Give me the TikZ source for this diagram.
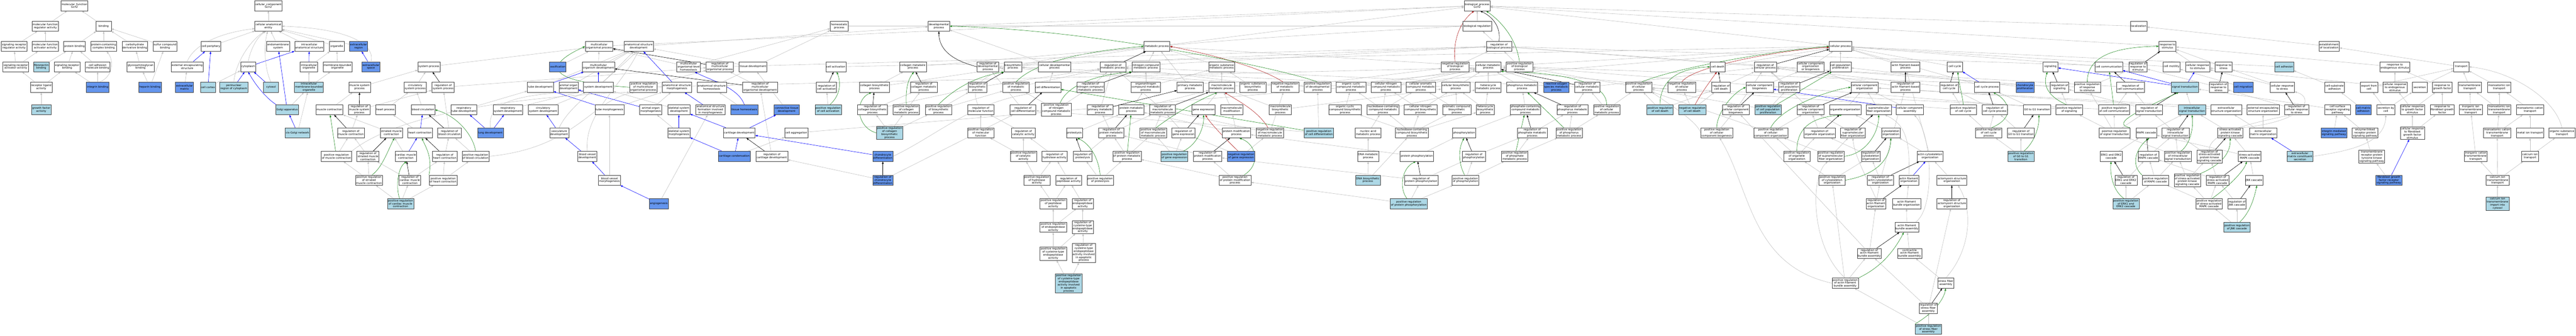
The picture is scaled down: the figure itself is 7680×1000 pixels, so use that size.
\documentclass[tikz,border=0pt]{standalone}
\usepackage{fontspec}
\newfontfamily\gofont{DejaVu Sans}
\usetikzlibrary{arrows.meta,shadows}
\pgfdeclarelayer{bg}
\pgfsetlayers{bg,main}
\definecolor{lbfill}{HTML}{ADD8E6}
\definecolor{dbfill}{HTML}{6495ED}
\definecolor{egray}{HTML}{C0C0C0}
\definecolor{egreen}{HTML}{228B22}
\definecolor{ered}{HTML}{B22222}
\tikzset{
  nb/.style={draw=black!75,line width=0.8pt,fill=white,font=\gofont\fontsize{8}{9}\selectfont,align=center,inner xsep=2pt,inner ysep=2pt,minimum height=30pt,minimum width=45pt,drop shadow={shadow xshift=0.9pt,shadow yshift=-0.9pt,fill=black!55,opacity=1}},
  lb/.style={nb,fill=lbfill},
  db/.style={nb,fill=dbfill},
  eg/.style={draw=egray,line width=0.9pt,-{Triangle[length=7pt,width=5pt]}},
  ek/.style={eg,draw=black},
  ebl/.style={eg,draw=blue},
  egr/.style={eg,draw=egreen},
  erd/.style={eg,draw=ered}
}
\begin{document}
\begin{tikzpicture}[x=1pt,y=-1pt]
\useasboundingbox (0,0) rectangle (7680,1000);
% ---------------- molecular function
\node[nb] (mf) at (222,17) {molecular\_function\\Gcn2};
\node[nb] (mfra) at (135,78) {molecular function\\regulator activity};
\node[nb] (binding) at (309,78) {binding};
\node[nb] (srra) at (42,138) {signaling receptor\\regulator activity};
\node[nb] (mfaa) at (135,138) {molecular function\\activator activity};
\node[nb] (protbind) at (222,138) {protein binding};
\node[nb] (pcbind) at (309,138) {protein-containing\\complex binding};
\node[nb] (carbbind) at (402,138) {carbohydrate\\derivative binding};
\node[nb] (sulfbind) at (492,138) {sulfur compound\\binding};
\node[nb] (srav) at (47,199) {signaling receptor\\activator activity};
\node[lb] (fibro) at (123,199) {fibronectin\\binding};
\node[nb] (srb) at (200,199) {signaling receptor\\binding};
\node[nb] (cadh) at (291,199) {cell adhesion\\molecule binding};
\node[nb] (gag) at (419,199) {glycosaminoglycan\\binding};
\node[nb] (rla) at (123,260) {receptor ligand\\activity};
\node[db] (integrin) at (291,260) {integrin binding};
\node[db] (heparin) at (447,260) {heparin binding};
\node[lb] (gfa) at (123,327) {growth factor\\activity};
% ---------------- cellular component
\node[nb] (cc) at (800,17) {cellular\_component\\Gcn2};
\node[nb] (cae) at (800,78) {cellular anatomical\\entity};
\node[nb] (cellperiph) at (629,138) {cell periphery};
\node[nb] (endo) at (829,138) {endomembrane\\system};
\node[nb] (ias) at (922,138) {intracellular\\anatomical structure};
\node[nb] (organelle) at (1004,138) {organelle};
\node[db] (ecr) at (1069,138) {extracellular\\region};
\node[nb] (ees) at (558,199) {external encapsulating\\structure};
\node[nb] (cytoplasm) at (740,199) {cytoplasm};
\node[nb] (io) at (921,199) {intracellular\\organelle};
\node[nb] (mbo) at (1006,199) {membrane-bounded\\organelle};
\node[db] (ecs) at (1106,199) {extracellular\\space};
\node[db] (ecm) at (550,260) {extracellular\\matrix};
\node[lb] (cortex) at (620,260) {cell cortex};
\node[lb] (perinuc) at (697,260) {perinuclear\\region of cytoplasm};
\node[lb] (cytosol) at (808,260) {cytosol};
\node[lb] (imbo) at (921,260) {intracellular\\membrane-bounded\\organelle};
\node[lb] (golgi) at (856,327) {Golgi apparatus};
\node[lb] (cisgolgi) at (887,396) {cis-Golgi network};
% ---------------- muscle / heart
\node[nb] (sysproc) at (1279,199) {system process};
\node[nb] (msp) at (1072,260) {muscle system\\process};
\node[nb] (csp) at (1238,260) {circulatory\\system process};
\node[nb] (rsp) at (1321,260) {regulation of\\system process};
\node[nb] (mc) at (982,327) {muscle contraction};
\node[nb] (rmsp) at (1071,327) {regulation of\\muscle system\\process};
\node[nb] (hp) at (1149,327) {heart process};
\node[nb] (bc) at (1261,327) {blood circulation};
\node[nb] (rmc) at (1046,396) {regulation of\\muscle contraction};
\node[nb] (smc) at (1167,396) {striated muscle\\contraction};
\node[nb] (hc) at (1252,396) {heart contraction};
\node[nb] (rbc) at (1340,396) {regulation of\\blood circulation};
\node[nb] (prmc) at (1003,466) {positive regulation\\of muscle contraction};
\node[nb] (rsmc) at (1097,466) {regulation of\\striated muscle\\contraction};
\node[nb] (cmc) at (1210,466) {cardiac muscle\\contraction};
\node[nb] (rhc) at (1326,466) {regulation of\\heart contraction};
\node[nb] (prbc) at (1418,466) {positive regulation\\of blood circulation};
\node[nb] (prsmc) at (1100,537) {positive regulation\\of striated\\muscle contraction};
\node[nb] (rcmc) at (1222,537) {regulation of\\cardiac muscle\\contraction};
\node[nb] (prhc) at (1321,537) {positive regulation\\of heart contraction};
\node[lb] (prcmc) at (1194,607) {positive regulation\\of cardiac muscle\\contraction};
% ---------------- development
\node[nb] (mop) at (1786,138) {multicellular\\organismal process};
\node[nb] (asd) at (1904,138) {anatomical structure\\development};
\node[db] (ossif) at (1663,199) {ossification};
\node[nb] (mod) at (1784,199) {multicellular\\organism development};
\node[nb] (tube) at (1611,260) {tube development};
\node[nb] (aod) at (1695,260) {animal organ\\development};
\node[nb] (sysdev) at (1784,260) {system development};
\node[nb] (prmop) at (1918,260) {positive regulation\\of multicellular\\organismal process};
\node[nb] (rtd) at (1383,327) {respiratory\\tube development};
\node[nb] (rsd) at (1514,327) {respiratory\\system development};
\node[nb] (csd) at (1619,327) {circulatory\\system development};
\node[nb] (tm) at (1817,327) {tube morphogenesis};
\node[nb] (aom) at (1940,327) {animal organ\\morphogenesis};
\node[db] (lung) at (1462,396) {lung development};
\node[nb] (vasc) at (1667,396) {vasculature\\development};
\node[nb] (bvd) at (1751,466) {blood vessel\\development};
\node[nb] (bvm) at (1817,537) {blood vessel\\morphogenesis};
\node[db] (angio) at (1964,607) {angiogenesis};
\node[nb] (homeo) at (2502,78) {homeostatic\\process};
\node[nb] (mlh) at (2053,199) {multicellular\\organismal-level\\homeostasis};
\node[nb] (rmop) at (2146,199) {regulation of\\multicellular\\organismal process};
\node[nb] (tisdev) at (2245,199) {tissue development};
\node[nb] (cellact) at (2492,199) {cell activation};
\node[nb] (asm) at (2018,260) {anatomical structure\\morphogenesis};
\node[nb] (ash) at (2122,260) {anatomical structure\\homeostasis};
\node[nb] (rmod) at (2266,260) {regulation of\\multicellular\\organismal development};
\node[nb] (rca) at (2464,260) {regulation of\\cell activation};
\node[nb] (ssd) at (2024,327) {skeletal system\\development};
\node[nb] (asfm) at (2118,327) {anatomical structure\\formation involved\\in morphogenesis};
\node[db] (tishomeo) at (2219,327) {tissue homeostasis};
\node[db] (ctd) at (2345,327) {connective tissue\\development};
\node[lb] (prca) at (2469,327) {positive regulation\\of cell activation};
\node[nb] (ssm) at (2024,396) {skeletal system\\morphogenesis};
\node[nb] (cartdev) at (2204,396) {cartilage development};
\node[nb] (cellagg) at (2374,396) {cell aggregation};
\node[db] (cartcond) at (2189,466) {cartilage condensation};
\node[nb] (rcd) at (2301,466) {regulation of\\cartilage development};
% ---------------- zoom 5
\node[nb] (devproc) at (2799,78) {developmental\\process};
\node[nb] (cmp) at (2722,199) {collagen metabolic\\process};
\node[nb] (rdp) at (2945,199) {regulation of\\developmental\\process};
\node[nb] (biosyn) at (3020,199) {biosynthetic\\process};
\node[nb] (cdp) at (3144,199) {cellular developmental\\process};
\node[nb] (cbp) at (2607,260) {collagen biosynthetic\\process};
\node[nb] (rcmp) at (2754,260) {regulation of\\collagen metabolic\\process};
\node[nb] (rbp) at (2914,260) {regulation of\\biosynthetic\\process};
\node[nb] (prmp) at (3029,260) {positive regulation\\of metabolic\\process};
\node[nb] (celldiff) at (3124,260) {cell differentiation};
\node[nb] (rcbp) at (2601,327) {regulation of\\collagen biosynthetic\\process};
\node[nb] (prcmp) at (2702,327) {positive regulation\\of collagen\\metabolic process};
\node[nb] (prbp) at (2798,327) {positive regulation\\of biosynthetic\\process};
\node[nb] (rmf) at (2924,327) {regulation of\\molecular function};
\node[nb] (rcdiff) at (3050,327) {regulation of\\cell differentiation};
\node[nb] (prncmp) at (3149,327) {positive regulation\\of nitrogen\\compound metabolic\\process};
\node[lb] (prcbp) at (2652,396) {positive regulation\\of collagen\\biosynthetic\\process};
\node[nb] (prmf) at (2924,396) {positive regulation\\of molecular\\function};
\node[nb] (rcatact) at (3051,396) {regulation of\\catalytic activity};
\node[nb] (proteolysis) at (3203,396) {proteolysis};
\node[db] (chondiff) at (2632,466) {chondrocyte\\differentiation};
\node[nb] (prcatact) at (3051,466) {positive regulation\\of catalytic\\activity};
\node[nb] (rhydro) at (3144,466) {regulation of\\hydrolase activity};
\node[nb] (rproteolysis) at (3228,466) {regulation of\\proteolysis};
\node[db] (rchondiff) at (2632,537) {regulation of\\chondrocyte\\differentiation};
\node[nb] (prhydro) at (3091,537) {positive regulation\\of hydrolase\\activity};
\node[nb] (rpep) at (3186,537) {regulation of\\peptidase activity};
\node[nb] (prproteolysis) at (3280,537) {positive regulation\\of proteolysis};
\node[nb] (prpep) at (3140,607) {positive regulation\\of peptidase\\activity};
\node[nb] (rendo) at (3228,607) {regulation of\\endopeptidase\\activity};
\node[nb] (prendo) at (3140,677) {positive regulation\\of endopeptidase\\activity};
\node[nb] (rcep) at (3228,677) {regulation of\\cysteine-type\\endopeptidase\\activity};
\node[nb] (prcep) at (3140,756) {positive regulation\\of cysteine-type\\endopeptidase\\activity};
\node[nb] (rcepa) at (3231,754) {regulation of\\cysteine-type\\endopeptidase\\activity involved\\in apoptotic\\process};
\node[lb] (prcepa) at (3186,845) {positive regulation\\of cysteine-type\\endopeptidase\\activity involved\\in apoptotic\\process};
% ---------------- zoom 6
\node[nb] (mp) at (3449,138) {metabolic process};
\node[nb] (rmp) at (3318,199) {regulation of\\metabolic process};
\node[nb] (ncmp) at (3416,199) {nitrogen compound\\metabolic process};
\node[nb] (osmp) at (3642,199) {organic substance\\metabolic process};
\node[nb] (rncmp) at (3251,260) {regulation of\\nitrogen compound\\metabolic process};
\node[nb] (oncmp) at (3416,260) {organonitrogen\\compound metabolic\\process};
\node[nb] (pmp) at (3548,260) {primary metabolic\\process};
\node[nb] (mmp) at (3642,260) {macromolecule\\metabolic process};
\node[nb] (osbp) at (3735,260) {organic substance\\biosynthetic\\process};
\node[nb] (nrmp) at (3831,260) {negative regulation\\of metabolic\\process};
\node[nb] (rpmp) at (3280,327) {regulation of\\primary metabolic\\process};
\node[nb] (protmp) at (3373,327) {protein metabolic\\process};
\node[nb] (rmmp) at (3466,327) {regulation of\\macromolecule\\metabolic process};
\node[nb] (geneexp) at (3588,327) {gene expression};
\node[nb] (macmod) at (3672,327) {macromolecule\\modification};
\node[nb] (mbp) at (3817,327) {macromolecule\\biosynthetic\\process};
\node[nb] (rprotmp) at (3313,396) {regulation of\\protein metabolic\\process};
\node[nb] (prmmp) at (3438,396) {positive regulation\\of macromolecule\\metabolic process};
\node[nb] (rge) at (3528,396) {regulation of\\gene expression};
\node[nb] (pmod) at (3686,396) {protein modification\\process};
\node[nb] (nrmmp) at (3786,396) {negative regulation\\of macromolecule\\metabolic process};
\node[nb] (prprotmp) at (3360,466) {positive regulation\\of protein metabolic\\process};
\node[lb] (prge) at (3501,466) {positive regulation\\of gene expression};
\node[nb] (rpmod) at (3600,466) {regulation of\\protein modification\\process};
\node[db] (nrge) at (3700,466) {negative regulation\\of gene expression};
\node[nb] (prpmod) at (3682,537) {positive regulation\\of protein modification\\process};
% ---------------- zoom 7
\node[nb] (bp) at (4404,17) {biological\_process\\Gcn2};
\node[nb] (bioreg) at (4404,78) {biological regulation};
\node[nb] (rbioproc) at (4469,138) {regulation of\\biological process};
\node[nb] (nrbp) at (4338,199) {negative regulation\\of biological\\process};
\node[nb] (cmetp) at (4437,199) {cellular metabolic\\process};
\node[nb] (prdp) at (3928,260) {positive regulation\\of developmental\\process};
\node[nb] (occmp) at (4028,260) {organic cyclic\\compound metabolic\\process};
\node[nb] (cncmp) at (4132,260) {cellular nitrogen\\compound metabolic\\process};
\node[nb] (cacmp) at (4236,260) {cellular aromatic\\compound metabolic\\process};
\node[nb] (cbiop) at (4340,260) {cellular biosynthetic\\process};
\node[nb] (hmp) at (4437,260) {heterocycle\\metabolic process};
\node[nb] (occbp) at (4010,327) {organic cyclic\\compound biosynthetic\\process};
\node[nb] (nbcmp) at (4123,327) {nucleobase-containing\\compound metabolic\\process};
\node[nb] (cncbp) at (4235,327) {cellular nitrogen\\compound biosynthetic\\process};
\node[nb] (acbp) at (4343,327) {aromatic compound\\biosynthetic\\process};
\node[nb] (hbp) at (4428,327) {heterocycle\\biosynthetic\\process};
\node[lb] (prcdiff) at (3932,396) {positive regulation\\of cell differentiation};
\node[nb] (namp) at (4079,396) {nucleic acid\\metabolic process};
\node[nb] (nbcbp) at (4209,396) {nucleobase-containing\\compound biosynthetic\\process};
\node[nb] (phos) at (4365,396) {phosphorylation};
\node[nb] (dnamp) at (4079,466) {DNA metabolic\\process};
\node[nb] (protphos) at (4224,466) {protein phosphorylation};
\node[nb] (rphos) at (4394,466) {regulation of\\phosphorylation};
\node[lb] (dnabp) at (4078,537) {DNA biosynthetic\\process};
\node[nb] (rpp) at (4237,537) {regulation of\\protein phosphorylation};
\node[nb] (prphos) at (4369,537) {positive regulation\\of phosphorylation};
\node[lb] (prpp) at (4200,607) {positive regulation\\of protein phosphorylation};
% ---------------- zoom 8
\node[nb] (prbioproc) at (4530,199) {positive regulation\\of biological\\process};
\node[nb] (celldeath) at (5121,199) {cell death};
\node[nb] (phmp) at (4538,260) {phosphorus metabolic\\process};
\node[db] (ros) at (4640,260) {reactive oxygen\\species metabolic\\process};
\node[nb] (rcmetp) at (4732,260) {regulation of\\cellular metabolic\\process};
\node[nb] (prcp) at (4885,260) {positive regulation\\of cellular\\process};
\node[nb] (nrcp) at (5014,260) {negative regulation\\of cellular\\process};
\node[nb] (rcdeath) at (5131,260) {regulation of\\cell death};
\node[nb] (pccmp) at (4548,327) {phosphate-containing\\compound metabolic\\process};
\node[nb] (rphmp) at (4688,327) {regulation of\\phosphorus metabolic\\process};
\node[nb] (prcmetp) at (4790,327) {positive regulation\\of cellular\\metabolic process};
\node[lb] (prcd) at (4949,327) {positive regulation\\of cell death};
\node[lb] (nrcd) at (5045,327) {negative regulation\\of cell death};
\node[nb] (rphamp) at (4568,396) {regulation of\\phosphate metabolic\\process};
\node[nb] (prphosmp) at (4678,396) {positive regulation\\of phosphorus\\metabolic process};
\node[nb] (prccb) at (5118,396) {positive regulation\\of cellular\\component biogenesis};
\node[nb] (prphamp) at (4516,466) {positive regulation\\of phosphate\\metabolic process};
% ---------------- zoom 9
\node[nb] (cellproc) at (5487,138) {cellular process};
\node[nb] (rcellp) at (5263,199) {regulation of\\cellular process};
\node[nb] (ccob) at (5398,199) {cellular component\\organization\\or biogenesis};
\node[nb] (cpp) at (5487,199) {cell population\\proliferation};
\node[nb] (afbp) at (5681,199) {actin filament-based\\process};
\node[nb] (ccb) at (5246,260) {cellular component\\biogenesis};
\node[nb] (rcpp) at (5334,260) {regulation of\\cell population\\proliferation};
\node[nb] (cco) at (5559,260) {cellular component\\organization};
\node[nb] (rafbp) at (5681,260) {regulation of\\actin filament-based\\process};
\node[nb] (rccb) at (5175,327) {regulation of\\cellular component\\biogenesis};
\node[lb] (prcpp) at (5271,327) {positive regulation\\of cell population\\proliferation};
\node[nb] (rcco) at (5398,327) {regulation of\\cellular component\\organization};
\node[nb] (orgorg) at (5501,327) {organelle organization};
\node[nb] (sfo) at (5601,327) {supramolecular\\fiber organization};
\node[nb] (cca) at (5694,327) {cellular component\\assembly};
\node[nb] (prcco) at (5279,396) {positive regulation\\of cellular\\component organization};
\node[nb] (roo) at (5425,396) {regulation of\\organelle organization};
\node[nb] (rsfo) at (5524,396) {regulation of\\supramolecular\\fiber organization};
\node[nb] (cytoorg) at (5637,396) {cytoskeleton\\organization};
\node[nb] (proo) at (5357,466) {positive regulation\\of organelle\\organization};
\node[nb] (prsfo) at (5458,466) {positive regulation\\of supramolecular\\fiber organization};
\node[nb] (rcytoorg) at (5577,466) {regulation of\\cytoskeleton\\organization};
\node[nb] (aco) at (5754,466) {actin cytoskeleton\\organization};
\node[nb] (prcytoorg) at (5462,537) {positive regulation\\of cytoskeleton\\organization};
\node[nb] (raco) at (5606,537) {regulation of\\actin cytoskeleton\\organization};
\node[nb] (afo) at (5691,537) {actin filament\\organization};
\node[nb] (aso) at (5819,537) {actomyosin structure\\organization};
\node[nb] (rafo) at (5593,607) {regulation of\\actin filament\\organization};
\node[nb] (afbo) at (5684,607) {actin filament\\bundle organization};
\node[nb] (raso) at (5819,607) {regulation of\\actomyosin structure\\organization};
\node[nb] (afba) at (5685,677) {actin filament\\bundle assembly};
\node[nb] (rafba) at (5573,755) {regulation of\\actin filament\\bundle assembly};
\node[nb] (cafba) at (5693,755) {contractile\\actin filament\\bundle assembly};
\node[nb] (prafba) at (5501,844) {positive regulation\\of actin filament\\bundle assembly};
\node[nb] (sfa) at (5801,844) {stress fiber\\assembly};
\node[nb] (rsfa) at (5749,919) {regulation of\\stress fiber\\assembly};
\node[lb] (prsfa) at (5749,981) {positive regulation\\of stress fiber\\assembly};
% ---------------- zoom 10
\node[nb] (localization) at (6376,78) {localization};
\node[nb] (cellcycle) at (5828,199) {cell cycle};
\node[nb] (signaling) at (6113,199) {signaling};
\node[nb] (cellcomm) at (6287,199) {cell communication};
\node[nb] (rrs) at (6374,199) {regulation of\\response to\\stimulus};
\node[nb] (rcc) at (5811,260) {regulation of\\cell cycle};
\node[nb] (ccp) at (5924,260) {cell cycle process};
\node[db] (chondprolif) at (6037,260) {chondrocyte\\proliferation};
\node[nb] (rsig) at (6140,260) {regulation of\\signaling};
\node[nb] (prrs) at (6223,260) {positive regulation\\of response\\to stimulus};
\node[nb] (rcellcomm) at (6352,260) {regulation of\\cell communication};
\node[nb] (prcc) at (5853,327) {positive regulation\\of cell cycle};
\node[nb] (rccp) at (5947,327) {regulation of\\cell cycle process};
\node[nb] (g0g1) at (6073,327) {G0 to G1 transition};
\node[nb] (prsig) at (6169,327) {positive regulation\\of signaling};
\node[nb] (prcellcomm) at (6303,327) {positive regulation\\of cell communication};
\node[nb] (rst) at (6407,327) {regulation of\\signal transduction};
\node[nb] (prccp) at (5929,396) {positive regulation\\of cell cycle\\process};
\node[nb] (rg0g1) at (6025,396) {regulation of\\G0 to G1 transition};
\node[nb] (prst) at (6304,396) {positive regulation\\of signal transduction};
\node[nb] (mapk) at (6399,396) {MAPK cascade};
\node[lb] (prg0g1) at (6025,466) {positive regulation\\of G0 to G1\\transition};
\node[nb] (erk) at (6294,466) {ERK1 and ERK2\\cascade};
\node[nb] (rmapk) at (6405,466) {regulation of\\MAPK cascade};
\node[nb] (rerk) at (6338,537) {regulation of\\ERK1 and ERK2\\cascade};
\node[nb] (prmapk) at (6426,537) {positive regulation\\of MAPK cascade};
\node[lb] (prerk) at (6338,607) {positive regulation\\of ERK1 and\\ERK2 cascade};
% ---------------- zoom 11
\node[nb] (rts) at (6462,138) {response to\\stimulus};
\node[nb] (estloc) at (6944,138) {establishment\\of localization};
\node[nb] (cellmot) at (6474,199) {cell motility};
\node[nb] (crs) at (6552,199) {cellular response\\to stimulus};
\node[nb] (rtstress) at (6629,199) {response to\\stress};
\node[lb] (celladh) at (6810,199) {cell adhesion};
\node[lb] (st) at (6514,260) {signal transduction};
\node[nb] (rrtstress) at (6614,260) {regulation of\\response to\\stress};
\node[db] (cellmig) at (6688,260) {cell migration};
\node[nb] (crstress) at (6804,260) {cellular response\\to stress};
\node[nb] (csa) at (6960,260) {cell-substrate\\adhesion};
\node[nb] (exportcell) at (7063,260) {export from\\cell};
\node[lb] (ist) at (6535,327) {intracellular\\signal transduction};
\node[nb] (esorg) at (6637,327) {extracellular\\structure organization};
\node[nb] (eeso) at (6747,327) {external encapsulating\\structure organization};
\node[nb] (rcrs) at (6847,327) {regulation of\\cellular response\\to stress};
\node[nb] (csrsp) at (6969,327) {cell surface\\receptor signaling\\pathway};
\node[db] (cma) at (7046,327) {cell-matrix\\adhesion};
\node[nb] (rist) at (6486,396) {regulation of\\intracellular\\signal transduction};
\node[nb] (sapk) at (6649,396) {stress-activated\\protein kinase\\signaling cascade};
\node[nb] (ecmorg) at (6747,396) {extracellular\\matrix organization};
\node[db] (integrinpath) at (6958,396) {integrin-mediated\\signaling pathway};
\node[nb] (ezlrp) at (7051,396) {enzyme-linked\\receptor protein\\signaling pathway};
\node[nb] (prist) at (6493,466) {positive regulation\\of intracellular\\signal transduction};
\node[nb] (rsapk) at (6587,466) {regulation of\\stress-activated\\protein kinase\\signaling cascade};
\node[nb] (samapk) at (6707,466) {stress-activated\\MAPK cascade};
\node[lb] (ecmcs) at (6857,466) {extracellular\\matrix constituent\\secretion};
\node[nb] (rtkp) at (7071,467) {transmembrane\\receptor protein\\tyrosine kinase\\signaling pathway};
\node[nb] (prsapk) at (6521,537) {positive regulation\\of stress-activated\\protein kinase\\signaling cascade};
\node[nb] (rsamapk) at (6611,537) {regulation of\\stress-activated\\MAPK cascade};
\node[nb] (jnk) at (6720,537) {JNK cascade};
\node[nb] (prsamapk) at (6586,607) {positive regulation\\of stress-activated\\MAPK cascade};
\node[nb] (rjnk) at (6669,607) {regulation of\\JNK cascade};
\node[lb] (prjnk) at (6669,677) {positive regulation\\of JNK cascade};
% ---------------- zoom 12
\node[nb] (rtes) at (7140,199) {response to\\endogenous stimulus};
\node[nb] (transport) at (7338,199) {transport};
\node[nb] (crtes) at (7140,260) {cellular response\\to endogenous\\stimulus};
\node[nb] (secretion) at (7214,260) {secretion};
\node[nb] (rtgf) at (7281,260) {response to\\growth factor};
\node[nb] (tmt) at (7363,260) {transmembrane\\transport};
\node[nb] (mit) at (7451,260) {monoatomic ion\\transport};
\node[nb] (secbycell) at (7113,327) {secretion by\\cell};
\node[nb] (crgf) at (7192,327) {cellular response\\to growth factor\\stimulus};
\node[nb] (rtfgf) at (7281,327) {response to\\fibroblast growth\\factor};
\node[nb] (iitt) at (7366,327) {inorganic ion\\transmembrane\\transport};
\node[nb] (mitt) at (7451,327) {monoatomic ion\\transmembrane\\transport};
\node[nb] (mct) at (7543,327) {monoatomic cation\\transport};
\node[nb] (crfgf) at (7192,397) {cellular response\\to fibroblast\\growth factor\\stimulus};
\node[nb] (mctt) at (7445,396) {monoatomic cation\\transmembrane\\transport};
\node[nb] (mett) at (7543,396) {metal ion transport};
\node[nb] (ost) at (7638,396) {organic substance\\transport};
\node[nb] (ictt) at (7381,466) {inorganic cation\\transmembrane\\transport};
\node[nb] (cait) at (7543,466) {calcium ion\\transport};
\node[db] (fgfrsp) at (7122,537) {fibroblast growth\\factor receptor\\signaling pathway};
\node[nb] (caitt) at (7446,537) {calcium ion\\transmembrane\\transport};
\node[lb] (caimport) at (7446,607) {calcium ion\\transmembrane\\import into\\cytosol};
% ================= edges
\begin{pgfonlayer}{bg}
\fill[white] (0,0) rectangle (7680,1000);
\foreach \a/\b in {mfra/mf,binding/mf,srra/mfra,mfaa/mfra,protbind/binding,pcbind/binding,carbbind/binding,sulfbind/binding,srav/srra,srav/mfaa,fibro/protbind,srb/protbind,cadh/protbind,gag/carbbind,rla/srav,rla/srb,integrin/srb,integrin/cadh,heparin/gag,heparin/sulfbind,gfa/rla,
cae/cc,cellperiph/cae,endo/cae,ias/cae,organelle/cae,ecr/cae,io/organelle,mbo/organelle,imbo/io,imbo/mbo,ecm/ees,golgi/imbo,cisgolgi/imbo,cortex/cytoplasm,
msp/sysproc,csp/sysproc,sysproc/mop,mc/msp,hp/csp,bc/csp,rmsp/rsp,rmc/rmsp,smc/mc,prmc/rmc,rsmc/rmc,cmc/smc,prsmc/prmc,prsmc/rsmc,rcmc/rsmc,rcmc/rhc,prcmc/prsmc,prcmc/rcmc,prcmc/prhc,hc/hp,rsp/rmop,rbc/rsp,rhc/rbc,prbc/rbc,prhc/rhc,prhc/prbc,
ossif/mop,mod/mop,mop/bp,asd/devproc,rtd/tube,rsd/sysdev,csd/sysdev,bvm/tm,tm/asm,aod/asd,tube/asd,sysdev/asd,mod/asd,aom/asm,ssd/sysdev,ssm/aom,ash/homeo,mlh/homeo,mlh/mop,tishomeo/ash,rmod/rmop,rmop/rbioproc,tisdev/asd,ctd/tisdev,prca/rca,cartcond/cellagg,cellagg/cellproc,rcd/rmod,angio/asfm,rchondiff/rcd,prmop/rmop,prmop/prbioproc,cellact/cellproc,homeo/bioreg,
cdp/devproc,celldiff/cdp,cbp/cmp,cbp/biosyn,rcbp/rcmp,prcmp/rcmp,prcbp/rcbp,prcbp/prcmp,prcbp/prbp,rcbp/rbp,prbp/rbp,prbp/prmp,rbp/rmp,prmf/rmf,prcatact/prmf,prcatact/rcatact,rcatact/rmf,rhydro/rcatact,prhydro/prcatact,prhydro/rhydro,rpep/rhydro,prpep/prhydro,prpep/rpep,prendo/prpep,prendo/rendo,prcep/prendo,prcep/rcep,prcepa/prcep,prcepa/rcepa,rendo/rpep,rcep/rendo,rcepa/rcep,rchondiff/rcdiff,rcdiff/rdp,prmp/rmp,prncmp/prmp,prncmp/rncmp,cmp/mp,biosyn/mp,prcdiff/rcdiff,prcdiff/prdp,devproc/bp,rdp/rbioproc,
ncmp/mp,pmp/mp,osmp/mp,rncmp/rmp,rpmp/rmp,oncmp/ncmp,oncmp/osmp,mmp/osmp,osbp/osmp,osbp/biosyn,protmp/oncmp,protmp/mmp,rmmp/rmp,geneexp/mmp,macmod/mmp,pmod/macmod,pmod/protmp,rge/rmmp,prge/rge,prge/prmmp,prmmp/rmmp,rprotmp/rmmp,rprotmp/rpmp,prprotmp/rprotmp,prprotmp/prmmp,rpmod/rprotmp,prpmod/rpmod,prpmod/prprotmp,nrge/rge,nrge/nrmmp,nrmmp/rmmp,nrmmp/nrmp,proteolysis/protmp,rproteolysis/rprotmp,prproteolysis/rproteolysis,prproteolysis/prprotmp,mbp/mmp,mbp/cbiop,nrmp/rmp,rmp/rbioproc,mp/bp,
bioreg/bp,rbioproc/bioreg,nrbp/rbioproc,occmp/cmetp,cncmp/cmetp,cacmp/cmetp,cbiop/cmetp,hmp/cmetp,occbp/occmp,nbcmp/occmp,nbcmp/cncmp,nbcmp/cacmp,nbcmp/hmp,cncbp/cncmp,cncbp/cbiop,acbp/cacmp,acbp/cbiop,hbp/hmp,hbp/cbiop,namp/nbcmp,nbcbp/nbcmp,nbcbp/occbp,nbcbp/cncbp,nbcbp/acbp,nbcbp/hbp,dnamp/namp,dnabp/dnamp,dnabp/nbcbp,protphos/phos,protphos/pmod,rpp/rphos,prphos/rphos,prpp/rpp,prpp/prphos,prpp/prpmod,rpp/rpmod,phos/pccmp,prdp/rdp,prdp/prbioproc,cmetp/mp,cmetp/cellproc,cbiop/biosyn,
prbioproc/rbioproc,prcp/prbioproc,nrcp/nrbp,pccmp/phmp,phmp/cmetp,ros/cmetp,rphmp/rcmetp,prcmetp/rcmetp,prcmetp/prcp,prcd/prcp,prcd/rcdeath,nrcd/nrcp,nrcd/rcdeath,rphamp/rphmp,prphosmp/rphmp,prphosmp/prcmetp,prphamp/rphamp,prphamp/prphosmp,rcmetp/rcellp,rcmetp/rmp,prccb/rccb,rcdeath/rcellp,rphos/rphamp,prphos/prphamp,nrmp/nrbp,
ccob/cellproc,cpp/cellproc,afbp/cellproc,celldeath/cellproc,rcellp/rbioproc,ccb/ccob,cco/ccob,rcpp/rcellp,prcpp/rcpp,prcpp/prcp,rccb/rcellp,rcco/rcellp,prcco/rcco,prcco/prcp,orgorg/cco,sfo/cco,cca/cco,cytoorg/orgorg,roo/rcco,rsfo/rcco,proo/roo,proo/prcco,prsfo/rsfo,prsfo/prcco,rcytoorg/roo,prcytoorg/rcytoorg,prcytoorg/proo,raco/rcytoorg,raco/rafbp,rafbp/rcellp,aco/cytoorg,aco/afbp,rafo/raco,afbo/afo,afba/afbo,rafba/rafo,rafba/rccb,cafba/afba,prafba/rafba,prafba/prcytoorg,rsfa/rafba,rsfa/raso,prsfa/rsfa,prsfa/prafba,sfa/cafba,aso/aco,cellcycle/cellproc,ccp/cellproc,cellcomm/cellproc,cellproc/bp,
rcc/rcellp,prcc/rcc,rccp/rcc,prccp/rccp,prccp/prcc,g0g1/ccp,rg0g1/rccp,prg0g1/rg0g1,prg0g1/prccp,chondprolif/cpp,prsig/rsig,prst/prsig,prst/prrs,prst/prcellcomm,prcellcomm/rcellcomm,rst/rcellcomm,rst/rsig,prst/rst,prrs/rrs,erk/mapk,rerk/rmapk,prerk/rerk,prerk/prmapk,mapk/ist,rmapk/rist,prmapk/rmapk,prmapk/prist,rsig/rbioproc,rcellcomm/rcellp,rrs/rbioproc,prcc/prcp,prsig/prbioproc,prcellcomm/prcp,prrs/prbioproc,localization/bp,rts/bp,
estloc/localization,crs/rts,rtstress/rts,rtes/rts,cellmot/cellproc,cellmig/cellmot,crstress/rtstress,crstress/crs,csa/celladh,celladh/cellproc,ist/st,rist/rst,prist/rist,prist/prst,sapk/ist,samapk/sapk,samapk/mapk,rsapk/rist,prsapk/rsapk,prsapk/prist,rsamapk/rsapk,rsamapk/rmapk,jnk/samapk,prjnk/rjnk,prjnk/prsamapk,prsamapk/rsamapk,prsamapk/prsapk,prsamapk/prmapk,rjnk/rsamapk,csrsp/st,integrinpath/csrsp,ezlrp/csrsp,cma/csa,ecmorg/eeso,ecmorg/esorg,esorg/cco,eeso/cco,rcrs/rrtstress,rrtstress/rrs,
crtes/rtes,rtgf/rtes,transport/estloc,exportcell/transport,secretion/transport,tmt/transport,mit/transport,secbycell/exportcell,secbycell/secretion,crgf/crtes,crgf/rtgf,rtfgf/rtgf,crfgf/crgf,crfgf/rtfgf,iitt/tmt,mitt/mit,mitt/tmt,mct/mit,mctt/mitt,mctt/mct,mett/mct,ictt/iitt,caitt/ictt,caitt/mctt,caitt/cait,cait/mett,cait/ost,caimport/caitt,fgfrsp/rtkp,rtkp/ezlrp,crtes/crs}
  \draw[eg] (\a) -- (\b);
\foreach \a/\b in {rmsp/msp,rmc/mc,rsmc/smc,rcmc/cmc,rsp/sysproc,rbc/bc,rhc/hc,rmop/mop,rmod/mod,rca/cellact,rcd/cartdev,rchondiff/chondiff,rcmp/cmp,rcbp/cbp,rbp/biosyn,rcdiff/celldiff,rproteolysis/proteolysis,rmp/mp,rncmp/ncmp,rpmp/pmp,rmmp/mmp,rprotmp/protmp,rge/geneexp,rpmod/pmod,rpp/protphos,rphos/phos,rcmetp/cmetp,rphmp/phmp,rphamp/pccmp,rcdeath/celldeath,rcellp/cellproc,rcpp/cpp,rccb/ccb,rcco/cco,roo/orgorg,rsfo/sfo,rcytoorg/cytoorg,raco/aco,rafo/afo,rafba/afba,rafbp/afbp,raso/aso,rsfa/sfa,rcc/cellcycle,rccp/ccp,rg0g1/g0g1,rsig/signaling,rcellcomm/cellcomm,rrs/rts,rerk/erk,rmapk/mapk,rst/st,rrtstress/rtstress,rcrs/crstress,rist/ist,rsapk/sapk,rsamapk/samapk,rjnk/jnk}
  \draw[ek] (\a) -- (\b);
\foreach \a/\b in {prmc/mc,prcpp/cpp,prcellcomm/cellcomm,prprotmp/protmp,prphosmp/phmp,prphamp/pccmp,prcdiff/celldiff}
  \draw[egr] (\a) -- (\b);
\foreach \a/\b in {ees/cellperiph,cortex/cellperiph,cytoplasm/ias,golgi/endo,io/ias,ecs/ecr,perinuc/cytoplasm,cytosol/cytoplasm,cisgolgi/golgi,cmc/hc,hc/bc,tube/mod,sysdev/mod,lung/rtd,lung/rsd,vasc/csd,bvd/vasc,bvm/bvd,tm/tube,aom/aod,asm/asd,ssm/ssd,cartdev/ssd,asfm/asm,cartdev/ctd,cartcond/cartdev,cartcond/ssm,angio/bvm,chondiff/cartdev,cca/ccb,afo/aco,ccp/cellcycle,st/signaling,st/cellcomm,st/crs,ecmcs/ecmorg,fgfrsp/crfgf}
  \draw[ebl] (\a) -- (\b);
% curved edges
\draw[eg] (integrin.70) .. controls (338,228) and (340,180) .. (pcbind.-60);
\draw[eg] (ees.north) .. controls (575,140) and (640,100) .. (cae.190);
\draw[eg] (cytoplasm.north) .. controls (744,160) and (760,115) .. (cae.245);
\draw[eg] (perinuc.north) .. controls (700,200) and (735,130) .. (cae.235);
\draw[eg] (cytosol.north) .. controls (790,210) and (785,140) .. (cae.262);
\draw[eg] (ecs.north) .. controls (1118,140) and (1060,86) .. (cae.east);
\draw[ebl] (golgi.155) .. controls (790,290) and (760,250) .. (cytoplasm.south);
\draw[egr] (prmop.west) .. controls (1640,245) and (1610,200) .. (mop.west);
\draw[eg] (lung.north) .. controls (1450,300) and (1560,285) .. (aod.220);
\draw[eg] (vasc.north) .. controls (1700,310) and (1800,250) .. (asd.250);
\draw[eg] (bvd.north) .. controls (1740,340) and (1850,260) .. (asd.265);
\draw[ebl] (tishomeo.north) .. controls (2200,260) and (2120,240) .. (mlh.-40);
\draw[egr] (prca.70) .. controls (2510,280) and (2505,240) .. (cellact.-80);
\draw[eg] (afo.north) .. controls (5695,420) and (5680,370) .. (sfo.-40);
\draw[eg] (rafo.north) .. controls (5560,520) and (5528,460) .. (rsfo.south);
\draw[eg] (prafba.west) .. controls (5218,790) and (5218,560) .. (prccb.-60);
\draw[eg] (prafba.north) .. controls (5400,740) and (5395,530) .. (prsfo.-120);
\draw[eg] (afba.30) .. controls (5770,620) and (5760,400) .. (cca.-50);
\draw[eg] (sfa.north) .. controls (5880,740) and (5880,620) .. (aso.-40);
\draw[egr] (prccp.60) .. controls (6010,350) and (5990,300) .. (ccp.-40);
\draw[egr] (prsig.120) .. controls (6090,280) and (6095,240) .. (signaling.-120);
\draw[egr] (prrs.north) .. controls (6222,170) and (6300,140) .. (rts.west);
\draw[egr] (prmapk.north west) .. controls (6350,490) and (6370,440) .. (mapk.-60);
\draw[egr] (prjnk.60) .. controls (6710,630) and (6720,590) .. (jnk.-60);
\draw[egr] (prsamapk.60) .. controls (6640,560) and (6690,510) .. (samapk.-120);
\draw[egr] (prsapk.north east) .. controls (6600,500) and (6650,470) .. (sapk.south);
\draw[egr] (prist.60) .. controls (6530,430) and (6540,380) .. (ist.-90);
\draw[egr] (prpmod.30) .. controls (3760,490) and (3745,430) .. (pmod.-60);
\draw[egr] (prge.30) .. controls (3570,430) and (3590,380) .. (geneexp.-90);
\draw[erd] (nrge.120) .. controls (3660,420) and (3610,370) .. (geneexp.-70);
\draw[egr] (prmmp.60) .. controls (3500,340) and (3570,300) .. (mmp.-130);
\draw[erd] (nrmmp.110) .. controls (3750,330) and (3690,300) .. (mmp.-60);
\draw[erd] (nrmp.110) .. controls (3760,200) and (3600,160) .. (mp.east);
\draw[egr] (prmp.north) .. controls (3060,210) and (3150,160) .. (mp.west);
\draw[egr] (prncmp.60) .. controls (3180,260) and (3250,225) .. (ncmp.200);
\draw[egr] (prbp.north) .. controls (2840,270) and (2900,230) .. (biosyn.-150);
\draw[egr] (prcmp.north) .. controls (2700,270) and (2705,240) .. (cmp.-80);
\draw[egr] (prcbp.west) .. controls (2555,380) and (2545,300) .. (cbp.-120);
\draw[ek] (rdp.west) .. controls (2860,185) and (2800,160) .. (devproc.south);
\draw[egr] (prdp.north) .. controls (3860,215) and (3300,90) .. (devproc.east);
\draw[eg] (chondiff.east) .. controls (2800,400) and (2900,300) .. (celldiff.-150);
\draw[eg] (rmf.120) .. controls (2870,200) and (3000,150) .. (bioreg.west);
\draw[ek] (rbioproc.north) .. controls (4475,80) and (4450,50) .. (bp.-60);
\draw[egr] (prbioproc.north) .. controls (4520,110) and (4470,60) .. (bp.-30);
\draw[erd] (nrbp.north) .. controls (4330,110) and (4360,60) .. (bp.-120);
\draw[egr] (prcd.north) .. controls (4950,240) and (5000,205) .. (celldeath.west);
\draw[erd] (nrcd.60) .. controls (5070,280) and (5100,240) .. (celldeath.-100);
\draw[egr] (prcp.60) .. controls (5000,200) and (5300,150) .. (cellproc.west);
\draw[erd] (nrcp.north) .. controls (5040,200) and (5300,150) .. (cellproc.185);
\draw[egr] (prccb.north) .. controls (5120,330) and (5170,275) .. (ccb.west);
\draw[eg] (prccb.west) .. controls (5060,360) and (4960,300) .. (prcp.-20);
\draw[egr] (prcco.north) .. controls (5310,320) and (5450,270) .. (cco.west);
\draw[egr] (proo.north) .. controls (5357,380) and (5400,350) .. (orgorg.-120);
\draw[egr] (prsfo.east) .. controls (5560,460) and (5600,400) .. (sfo.-90);
\draw[egr] (prcytoorg.east) .. controls (5600,520) and (5636,470) .. (cytoorg.south);
\draw[egr] (prafba.north east) .. controls (5600,800) and (5640,760) .. (afba.-120);
\draw[egr] (prsfa.north west) .. controls (5770,930) and (5795,890) .. (sfa.south);
\draw[egr] (prsmc.60) .. controls (1140,500) and (1160,440) .. (smc.-60);
\draw[egr] (prcmc.100) .. controls (1180,560) and (1185,500) .. (cmc.-80);
\draw[egr] (prbc.north) .. controls (1410,400) and (1360,345) .. (bc.east);
\draw[egr] (prhc.north west) .. controls (1290,470) and (1270,440) .. (hc.-70);
\draw[eg] (prmc.north east) .. controls (1110,400) and (1300,300) .. (prmop.200);
\draw[eg] (prbc.east) .. controls (1720,440) and (1760,300) .. (prmop.-150);
\draw[eg] (sapk.north east) .. controls (6880,360) and (6900,290) .. (crstress.-20);
\draw[eg] (rsapk.north) .. controls (6585,390) and (6750,360) .. (rcrs.-140);
\draw[eg] (ecmcs.east) .. controls (7000,450) and (7110,430) .. (secbycell.south);
\draw[eg] (ost.north) .. controls (7620,300) and (7500,215) .. (transport.east);
\draw[egr] (prcmetp.north) .. controls (4790,230) and (4600,215) .. (cmetp.-20);
\draw[egr] (prproteolysis.north) .. controls (3275,470) and (3250,430) .. (proteolysis.-60);
\draw[egr] (prpp.110) .. controls (4170,560) and (4180,500) .. (protphos.-100);
\draw[egr] (prphos.100) .. controls (4345,480) and (4350,440) .. (phos.-90);
\draw[egr] (prcc.north) .. controls (5852,290) and (5840,250) .. (cellcycle.-60);
\draw[egr] (prg0g1.60) .. controls (6070,420) and (6080,370) .. (g0g1.-70);
\draw[egr] (prerk.110) .. controls (6300,570) and (6290,520) .. (erk.-90);
\draw[egr] (prst.north east) .. controls (6300,370) and (6350,340) .. (st.-140);
\end{pgfonlayer}
\end{tikzpicture}
\end{document}
